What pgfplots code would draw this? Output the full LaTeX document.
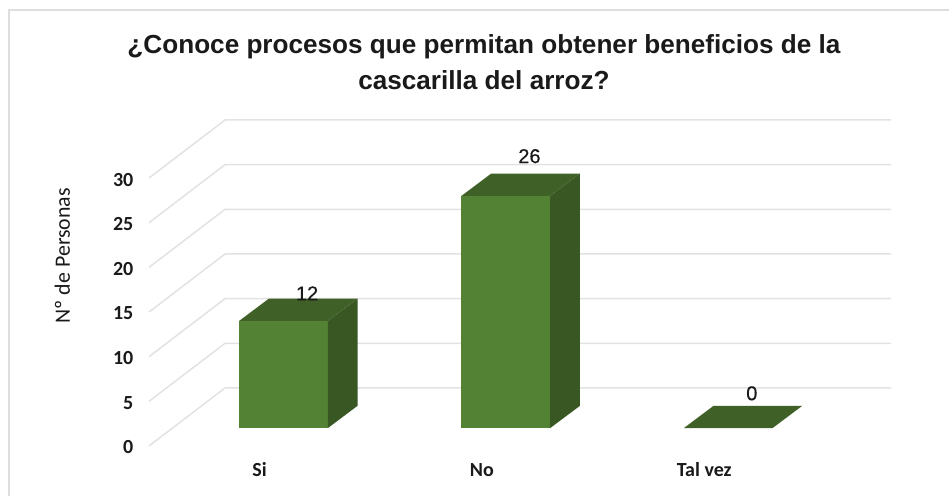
\documentclass[border=0pt]{standalone}
\usepackage{pgfplots}
\pgfplotsset{compat=1.18}
\usepackage{fontspec}
\setmainfont{Carlito}
\newfontfamily\arialf{Liberation Sans}
\newfontfamily\arialm[FakeBold=0.4]{Liberation Sans}
\definecolor{frontc}{HTML}{548235}
\definecolor{topc}{HTML}{3F6128}
\definecolor{sidec}{HTML}{385723}
\definecolor{gridc}{HTML}{E2E2E2}
\definecolor{framec}{HTML}{DEDEDE}
\definecolor{textc}{HTML}{1A1A1A}
\newlength{\px}\setlength{\px}{0.75pt}
\begin{document}
\begin{tikzpicture}[x=\px,y=\px]
\path[use as bounding box] (-149,-50) rectangle (800,446);
\draw[framec,line width=1.5\px] (-140,-50) -- (-140,436) -- (800,436);
\begin{axis}[
  scale only axis, width=742\px, height=326\px,
  at={(0,0)}, anchor=south west,
  xmin=-0.497, xmax=2.84, ymin=0, ymax=36.5,
  clip=false,
  axis line style={draw=none},
  major tick style={draw=none},
  xtick={0,1,2}, xticklabels={Si,No,Tal vez},
  ytick={0,5,...,30},
  tick label style={font=\fontsize{15}{18}\selectfont\bfseries, text=textc},
  /pgf/number format/assume math mode=true,
  yticklabel style={anchor=east, xshift=-11\px, yshift=-1.5\px},
  xticklabel style={anchor=center, yshift=-24\px},
  ylabel={Nº de Personas},
  ylabel style={font=\fontsize{16.4}{18}\selectfont, text=textc, at={(axis cs:-0.887,21.3)}, anchor=center, rotate=0},
]
% gridlines
\addplot[gridc,line width=1.5\px] coordinates {(-0.497,0)(-0.155,6.5)(2.84,6.5)};
\addplot[gridc,line width=1.5\px] coordinates {(-0.497,5)(-0.155,11.5)(2.84,11.5)};
\addplot[gridc,line width=1.5\px] coordinates {(-0.497,10)(-0.155,16.5)(2.84,16.5)};
\addplot[gridc,line width=1.5\px] coordinates {(-0.497,15)(-0.155,21.5)(2.84,21.5)};
\addplot[gridc,line width=1.5\px] coordinates {(-0.497,20)(-0.155,26.5)(2.84,26.5)};
\addplot[gridc,line width=1.5\px] coordinates {(-0.497,25)(-0.155,31.5)(2.84,31.5)};
\addplot[gridc,line width=1.5\px] coordinates {(-0.497,30)(-0.155,36.5)(2.84,36.5)};
% Si = 12
\addplot[fill=frontc,draw=none] coordinates {(-0.092,2)(0.307,2)(0.307,14)(-0.092,14)} --cycle;
\addplot[fill=sidec,draw=none] coordinates {(0.307,2)(0.441,4.5)(0.441,16.5)(0.307,14)} --cycle;
\addplot[fill=topc,draw=none] coordinates {(-0.092,14)(0.307,14)(0.441,16.5)(0.042,16.5)} --cycle;
% No = 26
\addplot[fill=frontc,draw=none] coordinates {(0.908,2)(1.307,2)(1.307,28)(0.908,28)} --cycle;
\addplot[fill=sidec,draw=none] coordinates {(1.307,2)(1.441,4.5)(1.441,30.5)(1.307,28)} --cycle;
\addplot[fill=topc,draw=none] coordinates {(0.908,28)(1.307,28)(1.441,30.5)(1.042,30.5)} --cycle;
% Tal vez = 0
\addplot[fill=topc,draw=none] coordinates {(1.908,2)(2.307,2)(2.441,4.5)(2.042,4.5)} --cycle;
% value labels
\addplot[only marks, mark=none, point meta=explicit,
  nodes near coords, nodes near coords align={anchor=south},
  every node near coord/.append style={font=\arialm\fontsize{15}{18}\selectfont, text=textc, inner sep=0pt, yshift=-2\px}]
  coordinates {(0.214,16.5)[12] (1.214,31.85)[26] (2.214,5.3)[0]};
\end{axis}
\node[font=\arialf\bfseries\fontsize{19.6}{27}\selectfont, align=center, text=textc, anchor=center] at (335,383.5) {¿Conoce procesos que permitan obtener beneficios de la\\cascarilla del arroz?};
\end{tikzpicture}
\end{document}
